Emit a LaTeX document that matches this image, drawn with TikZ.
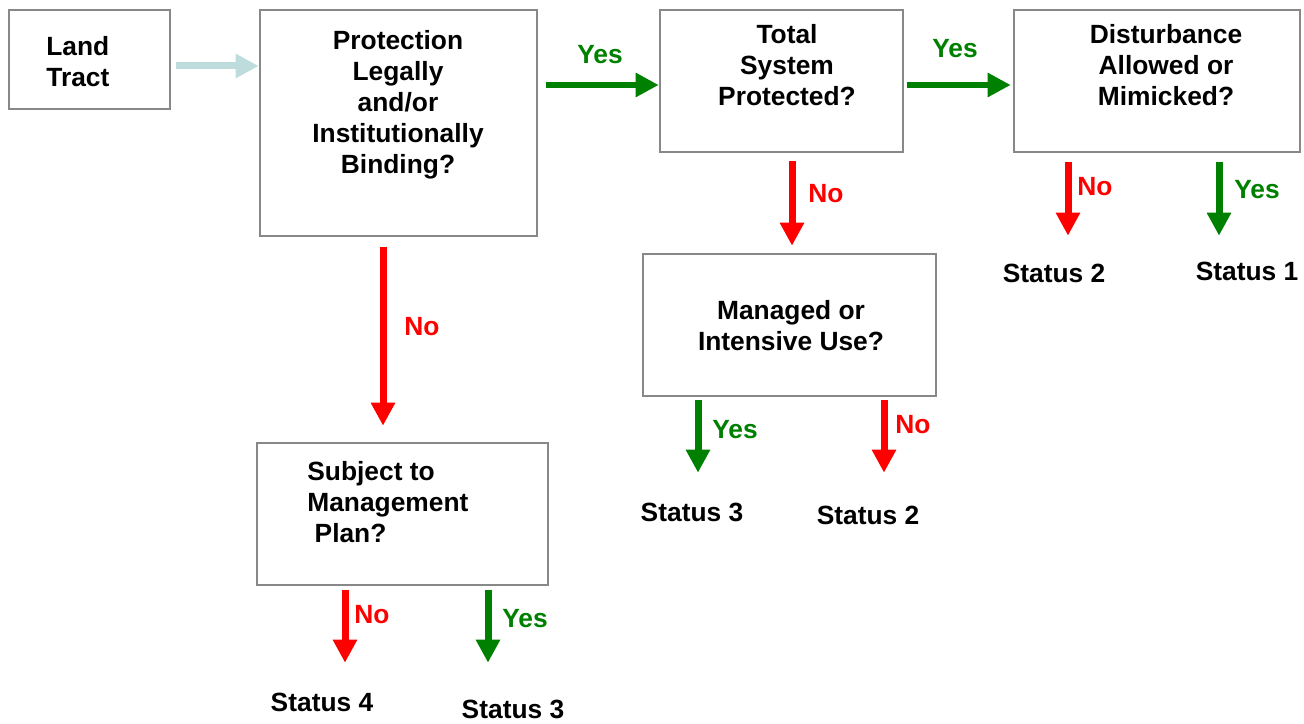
\documentclass[tikz,border=0pt]{standalone}
\usepackage{fontspec}
\setmainfont{Liberation Sans}
\usepackage{tikz}
\usetikzlibrary{arrows.meta}
\definecolor{tractcyan}{RGB}{190,220,220}
\definecolor{yesgreen}{RGB}{0,128,0}
\definecolor{boxgray}{RGB}{136,136,136}

\begin{document}
\begin{tikzpicture}
	[x=0.02cm, y=-0.02cm,
	every node/.style={font=\fontsize{15}{17.6}\selectfont\bfseries, inner sep=0pt},
	qbox/.style={draw=boxgray, line width=0.8pt, minimum height=2.84cm},
	flow/.style={line width=0.14cm, -{Triangle[length=0.46cm, width=0.46cm]}},
	tractarr/.style={flow, draw=tractcyan},
	yesarr/.style={flow, draw=yesgreen},
	noarr/.style={flow, draw=red},
	yestxt/.style={text=yesgreen},
	notxt/.style={text=red}]
	\useasboundingbox (0,0) rectangle (1304,723);
	% boxes
	\node[qbox, minimum width=3.22cm, minimum height=1.98cm] (land) at (89.5,59.5) {};
	\node[align=left, anchor=west] (land-t) at (46,62) {Land\\Tract};
	\node[qbox, minimum width=5.54cm, minimum height=4.52cm] (prot) at (398.5,123) {};
	\node[align=center] (prot-t) at (398,105) {Protection\\Legally\\and/or\\Institutionally\\Binding?};
	\node[qbox, minimum width=4.86cm] (total) at (781.5,81) {};
	\node[align=center] (total-t) at (787,65) {Total\\System\\Protected?};
	\node[qbox, minimum width=5.72cm] (dist) at (1157,81) {};
	\node[align=center] (dist-t) at (1166,65) {Disturbance\\Allowed or\\Mimicked?};
	\node[qbox, minimum width=5.86cm] (manage) at (789.5,325) {};
	\node[align=center] (manage-t) at (791,326) {Managed or\\Intensive Use?};
	\node[qbox, minimum width=5.82cm] (plan) at (402.5,514) {};
	\node[align=left, anchor=west] (plan-t) at (307,502) {Subject to\\Management\\\ Plan?};
	% outcomes
	\node (st4) at (322,702) {Status 4};
	\node (st3a) at (513,709) {Status 3};
	\node (st3b) at (692,512) {Status 3};
	\node (st2a) at (868,515) {Status 2};
	\node (st2b) at (1054,273) {Status 2};
	\node (st1) at (1247,271) {Status 1};
	% arrows
	\draw[tractarr] (land.east) ++(5,6.5) -- ++(83,0);
	\draw[yesarr] (prot.east) ++(8,-38) -- ++(113,0);
	\draw[yesarr] (total.east) ++(3,4) -- ++(104,0);
	\draw[noarr] (total.south) ++(10.5,8) -- ++(0,85);
	\draw[noarr] (dist.south) ++(-89,9) -- ++(0,74);
	\draw[yesarr] (dist.south) ++(62,9) -- ++(0,74);
	\draw[yesarr] (manage.south) ++(-91.5,3) -- ++(0,73);
	\draw[noarr] (manage.south) ++(94.5,3) -- ++(0,73);
	\draw[noarr] (prot.south) ++(-15.5,10) -- ++(0,179);
	\draw[noarr] (plan.south) ++(-57.5,4) -- ++(0,73);
	\draw[yesarr] (plan.south) ++(85.5,4) -- ++(0,73);
	% labels
	\node[yestxt] (y1) at (600,55) {Yes};
	\node[yestxt] (y2) at (955,49) {Yes};
	\node[notxt] (n1) at (826,194) {No};
	\node[notxt] (n2) at (1095,187) {No};
	\node[yestxt] (y3) at (1257,190) {Yes};
	\node[yestxt] (y4) at (735,430) {Yes};
	\node[notxt] (n3) at (913,425) {No};
	\node[notxt] (n4) at (422,327) {No};
	\node[notxt] (n5) at (372,615) {No};
	\node[yestxt] (y5) at (525,619) {Yes};
\end{tikzpicture}
\end{document}
